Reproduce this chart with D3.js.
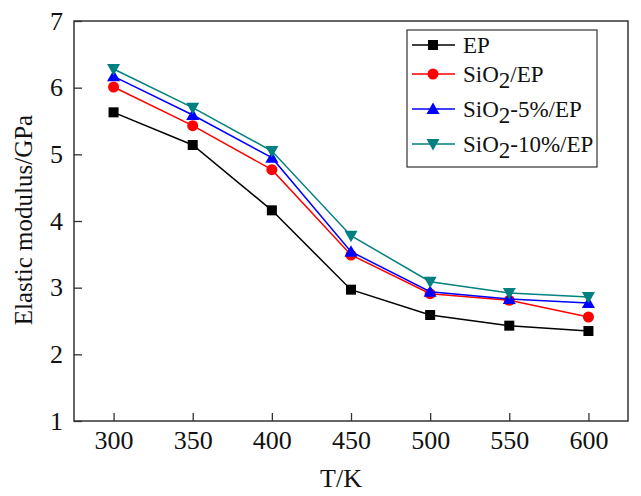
<!DOCTYPE html>
<html><head><meta charset="utf-8">
<script src="https://cdn.jsdelivr.net/npm/d3@7"></script>
<style>body{margin:0;background:#fff}svg{display:block}</style>
</head><body>
<script>
const temps = [300, 350, 400, 450, 500, 550, 600];
const xTicks = [300, 350, 400, 450, 500, 550, 600];
const yTicks = [1, 2, 3, 4, 5, 6, 7];
const seriesNames = ["EP", "SiO2/EP", "SiO2-5%/EP", "SiO2-10%/EP"];
const epVals   = [5.63, 5.14, 4.16, 2.97, 2.59, 2.43, 2.35];
const sio2Vals = [6.01, 5.43, 4.77, 3.49, 2.91, 2.81, 2.56];
const sio2_5   = [6.17, 5.59, 4.95, 3.54, 2.94, 2.83, 2.77];
const sio2_10  = [6.28, 5.70, 5.05, 3.78, 3.09, 2.92, 2.86];
const colors = ["#000000", "#ff0000", "#0000ff", "#008080"];
const markers = ["square", "circle", "triangle", "triangleDown"];

const W = 641, H = 496;
const m = {left: 74, right: 13, top: 21, bottom: 75};
const svg = d3.select("body").append("svg").attr("width", W).attr("height", H);
const x = d3.scaleLinear().domain([275, 625]).range([m.left, W - m.right]);
const y = d3.scaleLinear().domain([1, 7]).range([H - m.bottom, m.top]);
const font = "'Liberation Serif', 'Times New Roman', serif";

// frame
svg.append("rect").attr("x", m.left).attr("y", m.top)
  .attr("width", W - m.right - m.left).attr("height", H - m.bottom - m.top)
  .attr("fill", "none").attr("stroke", "#333").attr("stroke-width", 1.5);

// axes
const xAxis = svg.append("g").attr("transform", `translate(0,${H - m.bottom})`)
  .call(d3.axisBottom(x).tickValues(xTicks).tickSize(-8).tickPadding(10).tickFormat(d3.format("d")));
const yAxis = svg.append("g").attr("transform", `translate(${m.left},0)`)
  .call(d3.axisLeft(y).tickValues(yTicks).tickSize(-8).tickPadding(11).tickFormat(d3.format("d")));
[xAxis, yAxis].forEach(g => {
  g.select(".domain").remove();
  g.selectAll(".tick line").attr("stroke", "#333").attr("stroke-width", 1.3);
  g.selectAll("text").attr("font-family", font).attr("font-size", 26).attr("fill", "#111");
});

// titles
svg.append("text").attr("x", 341).attr("y", 487)
  .attr("text-anchor", "middle").attr("font-family", font).attr("font-size", 26).attr("fill", "#111").text("T/K");
svg.append("text").attr("transform", `translate(32,220) rotate(-90)`)
  .attr("text-anchor", "middle").attr("font-family", font).attr("font-size", 25).attr("fill", "#111").text("Elastic modulus/GPa");

const allSeries = [epVals, sio2Vals, sio2_5, sio2_10];
const line = d3.line().x((d, i) => x(temps[i])).y(d => y(d));

function drawMarker(g, type, cx, cy, color) {
  if (type === "square") {
    g.append("rect").attr("x", cx - 5).attr("y", cy - 5).attr("width", 10).attr("height", 10).attr("fill", color);
  } else if (type === "circle") {
    g.append("circle").attr("cx", cx).attr("cy", cy).attr("r", 5.5).attr("fill", color);
  } else if (type === "triangle") {
    g.append("path").attr("d", `M${cx},${cy - 6.5}L${cx + 6.5},${cy + 5}L${cx - 6.5},${cy + 5}Z`).attr("fill", color);
  } else {
    g.append("path").attr("d", `M${cx},${cy + 6.5}L${cx + 6.5},${cy - 5}L${cx - 6.5},${cy - 5}Z`).attr("fill", color);
  }
}

allSeries.forEach((vals, s) => {
  svg.append("path").datum(vals).attr("d", line).attr("fill", "none")
    .attr("stroke", colors[s]).attr("stroke-width", 1.5);
  const g = svg.append("g");
  vals.forEach((v, i) => drawMarker(g, markers[s], x(temps[i]), y(v), colors[s]));
});

// legend
const lg = svg.append("g");
lg.append("rect").attr("x", 407).attr("y", 30).attr("width", 190).attr("height", 137)
  .attr("fill", "#fff").attr("stroke", "#333").attr("stroke-width", 1.2);
const rowsY = [45, 74, 109, 144];
seriesNames.forEach((name, s) => {
  const yy = rowsY[s];
  lg.append("line").attr("x1", 412).attr("x2", 455).attr("y1", yy).attr("y2", yy)
    .attr("stroke", colors[s]).attr("stroke-width", 1.5);
  drawMarker(lg, markers[s], 433, yy, colors[s]);
  const t = lg.append("text").attr("x", 463).attr("y", yy + 8)
    .attr("font-family", font).attr("font-size", 23).attr("fill", "#111");
  const parts = name.split("2");
  if (parts.length > 1) {
    t.append("tspan").text(parts[0]);
    t.append("tspan").attr("dy", 6).text("2");
    t.append("tspan").attr("dy", -6).text(parts.slice(1).join("2"));
  } else {
    t.text(name);
  }
});
</script>
</body></html>
